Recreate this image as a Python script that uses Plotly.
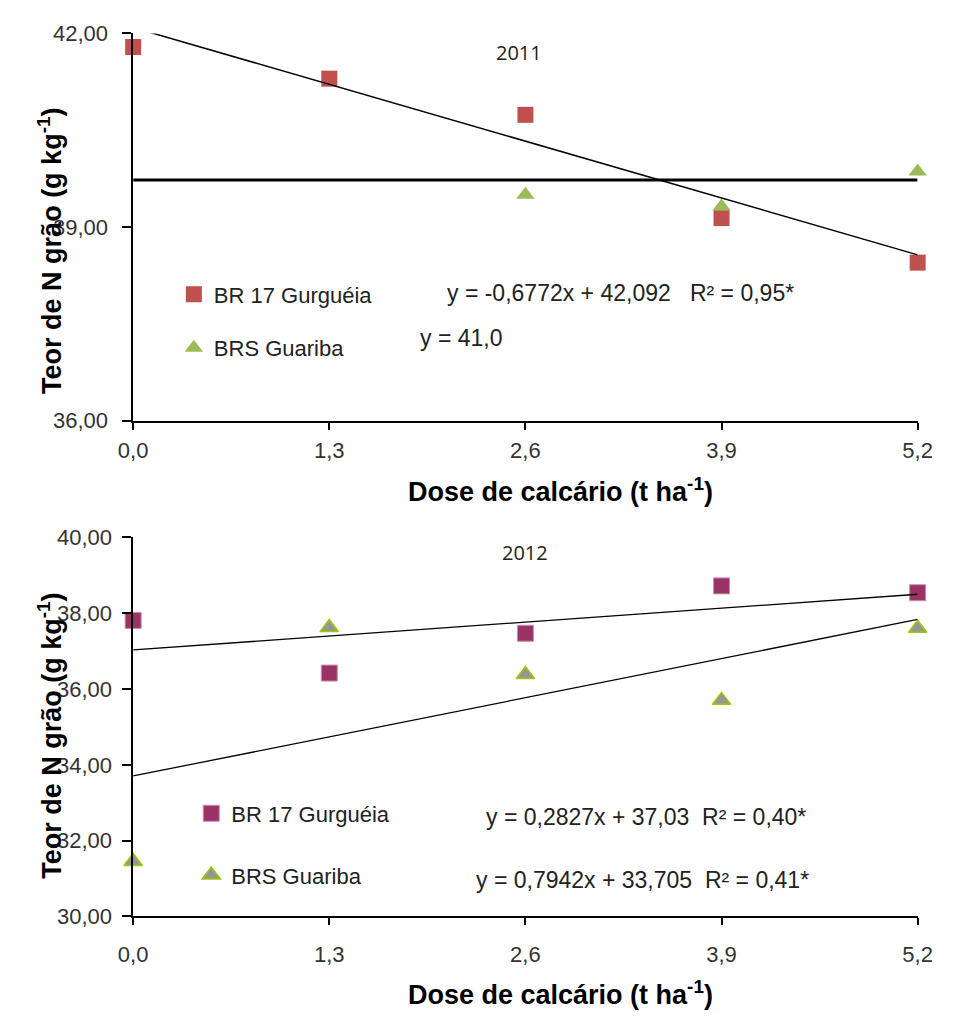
import plotly.graph_objects as go

# ---------------- data ----------------
doses = [0.0, 1.3, 2.6, 3.9, 5.2]
x_ticks = [0.0, 1.3, 2.6, 3.9, 5.2]

# 2011
br17_2011 = [41.79, 41.30, 40.74, 39.14, 38.45]
guariba_2011_x = [2.6, 3.9, 5.2]
guariba_2011 = [39.50, 39.32, 39.86]
br17_2011_coef = [-0.6772, 42.092]      # slope, intercept
guariba_2011_line = 39.73               # horizontal line as drawn

# 2012
br17_2012 = [37.81, 36.42, 37.47, 38.72, 38.54]
guariba_2012 = [31.45, 37.62, 36.38, 35.70, 37.60]
br17_2012_coef = [0.2827, 37.03]
guariba_2012_coef = [0.7942, 33.705]

line_x = [doses[0], doses[-1]]

W, H = 953, 1026
def px_x(p): return p / W
def px_y(p): return 1 - p / H

fig = go.Figure()

# ---------- 2011 ----------
fig.add_trace(go.Scatter(
    x=doses, y=br17_2011, mode="markers", name="BR 17 Gurguéia",
    marker=dict(symbol="square", size=16, color="#C0504D"),
    cliponaxis=False, xaxis="x", yaxis="y", legend="legend", legendgroup="a1"))
fig.add_trace(go.Scatter(
    x=guariba_2011_x, y=guariba_2011, mode="markers", name="BRS Guariba",
    marker=dict(symbol="triangle-up", size=16, color="#9BBB59"),
    cliponaxis=False, xaxis="x", yaxis="y", legend="legend", legendgroup="b1"))
fig.add_trace(go.Scatter(
    x=line_x, y=[br17_2011_coef[1] + br17_2011_coef[0] * v for v in line_x],
    mode="lines", line=dict(color="black", width=1.5), showlegend=False,
    xaxis="x", yaxis="y"))
fig.add_trace(go.Scatter(
    x=line_x, y=[guariba_2011_line, guariba_2011_line],
    mode="lines", line=dict(color="black", width=3), showlegend=False,
    xaxis="x", yaxis="y"))

# ---------- 2012 ----------
fig.add_trace(go.Scatter(
    x=doses, y=br17_2012, mode="markers", name="BR 17 Gurguéia",
    marker=dict(symbol="square", size=16, color="#993366",
                line=dict(color="#C890B0", width=1)),
    cliponaxis=False, xaxis="x2", yaxis="y2", legend="legend2", legendgroup="a2"))
fig.add_trace(go.Scatter(
    x=doses, y=guariba_2012, mode="markers", name="BRS Guariba",
    marker=dict(symbol="triangle-up", size=16, color="#969696",
                line=dict(color="#99CC00", width=1.5)),
    cliponaxis=False, xaxis="x2", yaxis="y2", legend="legend2", legendgroup="b2"))
fig.add_trace(go.Scatter(
    x=line_x, y=[br17_2012_coef[1] + br17_2012_coef[0] * v for v in line_x],
    mode="lines", line=dict(color="black", width=1.3), showlegend=False,
    xaxis="x2", yaxis="y2"))
fig.add_trace(go.Scatter(
    x=line_x, y=[guariba_2012_coef[1] + guariba_2012_coef[0] * v for v in line_x],
    mode="lines", line=dict(color="black", width=1.3), showlegend=False,
    xaxis="x2", yaxis="y2"))

tickfont = dict(family="Arial, Liberation Sans", size=22, color="#333333")
xcommon = dict(range=[0, 5.2], tickvals=x_ticks, tickformat=".1f",
               ticks="outside", ticklen=7, tickwidth=1.5, tickcolor="black",
               showline=True, linecolor="black", linewidth=1.5,
               showgrid=False, zeroline=False, tickfont=tickfont, fixedrange=True)
ycommon = dict(tickformat=".2f", ticks="outside", ticklen=9, tickwidth=1.5,
               tickcolor="black", showline=True, linecolor="black", linewidth=1.5,
               showgrid=False, zeroline=False, tickfont=tickfont, fixedrange=True)

legfont = dict(family="Arial, Liberation Sans", size=22, color="#222222")

fig.update_layout(
    width=W, height=H, margin=dict(l=0, r=0, t=0, b=0),
    paper_bgcolor="white", plot_bgcolor="white",
    separators=",.",
    xaxis=dict(domain=[px_x(122), px_x(932)], anchor="y", ticklabelstandoff=2, **xcommon),
    yaxis=dict(domain=[px_y(419), px_y(22)], anchor="x", range=[36, 42],
               tickvals=[36, 39, 42], ticklabelstandoff=10, **ycommon),
    xaxis2=dict(domain=[px_x(122), px_x(932)], anchor="y2", ticklabelstandoff=10, **xcommon),
    yaxis2=dict(domain=[px_y(927), px_y(538.5)], anchor="x2", range=[30, 40],
                tickvals=[30, 32, 34, 36, 38, 40], ticklabelstandoff=6, **ycommon),
    legend=dict(x=px_x(164), y=px_y(268), xanchor="left", yanchor="top",
                font=legfont, tracegroupgap=22, bgcolor="rgba(0,0,0,0)"),
    legend2=dict(x=px_x(182), y=px_y(800), xanchor="left", yanchor="top",
                 font=legfont, tracegroupgap=30, bgcolor="rgba(0,0,0,0)"),
)

ann_font = dict(family="Arial, Liberation Sans", size=23, color="#222222")
title_font = dict(family="Open Sans, Liberation Sans", size=20, color="#222222")
axis_font = dict(family="Arial, Liberation Sans", size=27, color="black")

def ann(text, x, y, font, **kw):
    fig.add_annotation(text=text, x=px_x(x), y=px_y(y), xref="paper", yref="paper",
                       showarrow=False, font=font, xanchor="center", yanchor="middle", **kw)

NB = "\u00a0"
ann("2011", 520, 42, title_font)
ann("2012", 527, 554, title_font)
ann(f"y = -0,6772x + 42,092{NB}{NB} R² = 0,95*", 625, 288, ann_font)
ann("y = 41,0", 461, 334, ann_font)
ann(f"y = 0,2827x + 37,03{NB} R² = 0,40*", 651, 825, ann_font)
ann(f"y = 0,7942x + 33,705{NB} R² = 0,41*", 648, 890, ann_font)
ann("<b>Teor de N grão (g kg<sup>-1</sup>)</b>", 36, 245, axis_font, textangle=-90)
ann("<b>Teor de N grão (g kg<sup>-1</sup>)</b>", 36, 742, axis_font, textangle=-90)
ann("<b>Dose de calcário (t ha<sup>-1</sup>)</b>", 563, 490, axis_font)
ann("<b>Dose de calcário (t ha<sup>-1</sup>)</b>", 563, 1006, axis_font)

fig.write_html("out.html")
